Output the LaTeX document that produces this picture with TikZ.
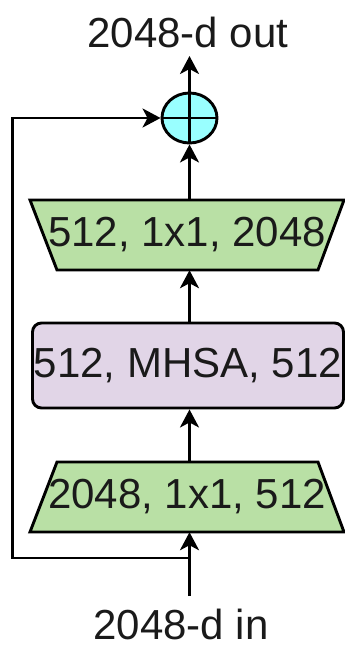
\documentclass[tikz,border=0pt]{standalone}
\usepackage{fontspec}
\setmainfont{Liberation Sans}
\usetikzlibrary{shapes.geometric,arrows.meta}
\definecolor{boxgreen}{HTML}{B9E0A5}
\definecolor{boxpurple}{HTML}{E1D5E7}
\definecolor{pluscyan}{HTML}{99FFFF}
\definecolor{txt}{HTML}{1A1A1A}
\tikzset{
  every node/.style={font=\fontsize{42}{50}\selectfont, text=txt},
  line/.style={line width=2.9pt, draw=black},
  arr/.style={line, -{Stealth[length=18pt,width=19pt,inset=5pt]}},
  trapshape/.style={draw=black, line width=2.9pt, fill=boxgreen, line join=miter},
  traptext/.style={rectangle, inner sep=0pt, minimum width=315pt, minimum height=70pt},
  mhsabox/.style={rectangle, rounded corners=9pt, draw=black, line width=2.9pt,
    fill=boxpurple, inner sep=0pt, minimum width=311pt, minimum height=85pt},
  addnode/.style={ellipse, draw=black, line width=2.9pt, fill=pluscyan,
    inner sep=0pt, minimum width=55pt, minimum height=50pt},
  label/.style={inner sep=0pt, anchor=base}
}
\begin{document}
\begin{tikzpicture}[x=1pt,y=-1pt]
\useasboundingbox (0,0) rectangle (345,648);
% trapezoid outlines
\draw[trapshape] (30,200) -- (344,200) -- (318,270) -- (57,270) -- cycle;
\draw[trapshape] (57,462) -- (318,462) -- (344,532) -- (30,532) -- cycle;
% nodes
\node[addnode] (plus) at (189.5,118) {};
\node[traptext] (top) at (187,235) {512, 1x1, 2048};
\node[mhsabox] (mid) at (188,365.5) {512, MHSA, 512};
\node[traptext] (bot) at (187,497) {2048, 1x1, 512};
\node[label] (outlbl) at (188,47) {2048-d out};
\node[label] (inlbl) at (181,639) {2048-d in};
\coordinate (outtip) at (189.5,56);
\coordinate (instart) at (189.5,596);
\coordinate (join) at (189.5,558);
\coordinate (corner) at (12.5,558);
% plus sign
\draw[line] (plus.north) -- (plus.south);
\draw[line] (plus.west) -- (plus.east);
% main flow
\draw[arr] (instart) -- (instart |- bot.south);
\draw[arr] (instart |- bot.north) -- (instart |- mid.south);
\draw[arr] (instart |- mid.north) -- (instart |- top.south);
\draw[arr] (instart |- top.north) -- (plus.south);
\draw[arr] (plus.north) -- (outtip);
% skip connection
\draw[arr] (join) -- (corner) |- (plus.west);
\end{tikzpicture}
\end{document}
